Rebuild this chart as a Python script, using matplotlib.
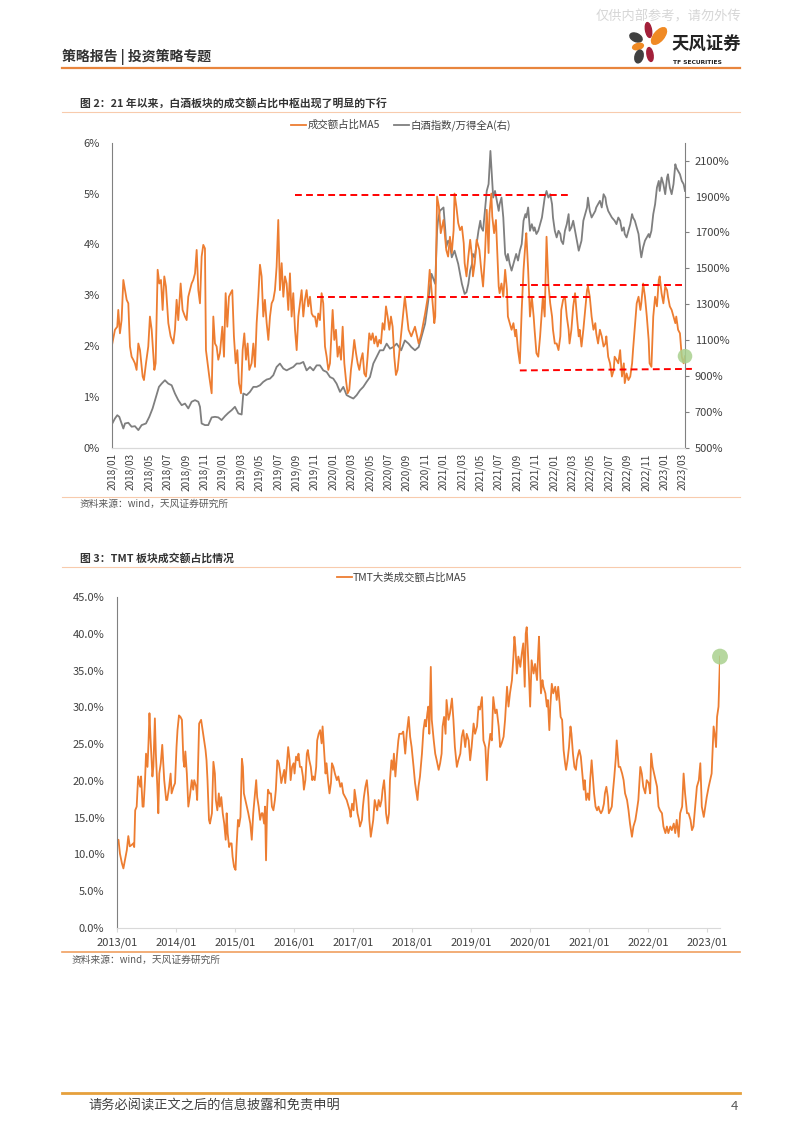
import matplotlib
matplotlib.use("Agg")
import matplotlib.pyplot as plt
from matplotlib.lines import Line2D
from matplotlib.patches import Ellipse

plt.rcParams['font.family'] = ['Noto Sans CJK SC', 'DejaVu Sans']

# ---------------- 图2 数据 (x: 月份序号, 2018/01 = 0) ----------------
ratio_t = [0.00, 0.29, 0.54, 0.65, 0.83, 1.01, 1.20, 1.56, 1.74, 1.92,
           2.10, 2.28, 2.46, 2.64, 2.83, 3.01, 3.30, 3.44, 3.66, 3.91,
           4.09, 4.28, 4.57, 4.71, 4.93, 5.11, 5.29, 5.47, 5.65, 5.83,
           6.09, 6.34, 6.63, 6.81, 6.99, 7.17, 7.43, 7.64, 7.90, 8.08,
           8.26, 8.44, 8.62, 8.80, 8.99, 9.17, 9.35, 9.53, 9.71, 9.89,
           10.07, 10.18, 10.36, 10.54, 10.80, 10.98, 11.16, 11.34, 11.52, 11.70,
           11.96, 12.14, 12.32, 12.50, 12.68, 12.86, 13.04, 13.22, 13.41, 13.59,
           13.77, 13.99, 14.17, 14.35, 14.53, 14.71, 14.89, 15.14, 15.33, 15.51,
           15.69, 15.87, 16.05, 16.23, 16.41, 16.59, 16.78, 16.96, 17.14, 17.32,
           17.50, 17.68, 17.86, 18.04, 18.22, 18.41, 18.59, 18.77, 18.95, 19.13,
           19.31, 19.49, 19.67, 19.86, 20.04, 20.22, 20.40, 20.58, 20.76, 20.94,
           21.12, 21.30, 21.49, 21.67, 21.85, 22.03, 22.21, 22.39, 22.57, 22.75,
           22.93, 23.12, 23.30, 23.48, 23.66, 23.95, 24.13, 24.31, 24.49, 24.67,
           24.86, 25.04, 25.22, 25.40, 25.58, 25.76, 25.94, 26.12, 26.30, 26.49,
           26.67, 26.85, 27.03, 27.21, 27.39, 27.57, 27.75, 27.93, 28.12, 28.30,
           28.48, 28.66, 28.84, 29.02, 29.20, 29.38, 29.57, 29.75, 29.93, 30.11,
           30.29, 30.47, 30.65, 30.83, 31.01,
           31.8, 32.2, 32.5, 32.9, 33.3, 33.6, 34.0, 34.3, 34.5, 34.7,
           35.0, 35.1, 35.3, 35.5, 35.7, 36.0, 36.2, 36.3, 36.5, 36.7,
           36.9, 37.1, 37.2, 37.4, 37.6, 37.8, 38.0, 38.2, 38.3, 38.5,
           38.7, 38.9, 39.1, 39.2, 39.4, 39.6, 39.9, 40.1, 40.3, 40.5,
           40.7, 40.9, 41.0, 41.2, 41.3, 41.5, 41.7, 42.0, 42.1, 42.3,
           42.5, 42.7, 42.9, 43.0, 43.2, 43.4, 43.6, 43.8, 43.9, 44.1,
           44.3, 44.5, 44.7, 44.9, 45.0, 45.2, 45.4, 45.6, 45.8, 45.9,
           46.1, 46.3, 46.5, 46.7, 46.8, 47.0, 47.2, 47.4, 47.6, 47.8,
           47.9, 48.1, 48.3, 48.5, 48.7, 48.8, 49.0, 49.2, 49.4, 49.6,
           49.7, 49.9, 50.1, 50.3, 50.5, 50.7, 50.8, 51.0, 51.2, 51.4,
           51.6, 51.7, 51.9, 52.1, 52.3, 52.5, 52.6, 52.8, 53.0, 53.2,
           53.4, 53.6, 53.7, 53.9, 54.1, 54.3, 54.5, 54.6, 54.8, 55.0,
           55.2, 55.4, 55.6, 55.7, 55.9, 56.1, 56.3, 56.5, 56.6, 56.8,
           57.0, 57.2, 57.4, 57.5, 57.7, 57.9, 58.1, 58.3, 58.4, 58.6,
           58.8, 59.0, 59.2, 59.4, 59.5, 59.7, 59.9, 60.1, 60.3, 60.4,
           60.6, 60.8, 61.0, 61.2, 61.3, 61.5, 61.7, 61.9, 62.1, 62.25]
ratio_v = [2.05, 2.32, 2.38, 2.71, 2.25, 2.51, 3.30, 2.91, 2.84, 1.99,
           1.79, 1.73, 1.66, 1.53, 2.05, 1.92, 1.40, 1.33, 1.66, 1.99,
           2.58, 2.32, 1.53, 1.66, 3.50, 3.23, 3.30, 2.71, 3.37, 3.17,
           2.45, 2.19, 2.05, 2.32, 2.91, 2.51, 3.23, 2.71, 2.58, 2.51,
           2.97, 3.10, 3.23, 3.30, 3.43, 3.89, 3.10, 2.84, 3.76, 3.99,
           3.92, 1.92, 1.66, 1.40, 1.07, 2.58, 2.05, 1.99, 1.73, 1.86,
           2.38, 1.79, 3.04, 2.38, 2.97, 3.04, 3.10, 2.19, 1.66, 1.92,
           1.27, 1.07, 1.92, 2.25, 1.73, 2.05, 1.53, 1.66, 2.05, 1.59,
           2.45, 2.97, 3.60, 3.37, 2.58, 2.91, 2.45, 2.12, 2.58, 2.84,
           2.91, 3.10, 3.56, 4.48, 3.10, 3.63, 2.97, 3.37, 3.23, 2.71,
           3.43, 2.58, 3.04, 2.32, 1.92, 2.58, 2.84, 3.10, 2.58, 2.91,
           3.10, 2.78, 2.97, 2.64, 2.58, 2.58, 2.38, 2.64, 2.51, 3.04,
           2.84, 1.99, 1.79, 1.53, 1.66, 2.71, 2.12, 2.32, 1.79, 1.99,
           1.73, 2.38, 1.66, 1.33, 1.07, 1.14, 1.53, 1.79, 2.12, 1.86,
           1.66, 1.53, 1.73, 1.86, 1.46, 1.40, 1.79, 2.25, 2.12, 2.25,
           2.05, 2.19, 1.99, 2.12, 2.05, 2.45, 2.32, 2.78, 2.58, 2.32,
           2.58, 2.38, 1.79, 1.43, 1.53,
           2.97, 2.32, 2.19, 2.38, 2.05, 2.25, 2.64, 2.97, 3.50, 3.10,
           2.45, 2.58, 4.94, 4.74, 4.22, 4.48, 4.09, 3.89, 3.76, 4.15,
           3.83, 4.28, 5.00, 4.74, 4.42, 4.28, 4.35, 4.02, 3.63, 3.37,
           3.76, 4.09, 3.76, 3.37, 3.63, 4.09, 3.89, 3.50, 3.17, 3.76,
           4.68, 3.83, 4.61, 5.00, 4.55, 4.22, 4.48, 3.17, 3.04, 3.23,
           2.97, 3.50, 3.10, 2.58, 2.45, 2.32, 2.45, 2.19, 2.32, 1.92,
           1.66, 2.71, 3.50, 4.02, 4.22, 3.50, 2.58, 2.97, 2.58, 2.32,
           1.86, 1.79, 2.19, 2.71, 2.97, 2.58, 4.15, 3.23, 2.84, 2.58,
           2.32, 2.05, 2.05, 1.92, 2.19, 2.71, 2.91, 2.97, 2.58, 2.32,
           2.05, 2.32, 2.78, 3.04, 2.58, 2.19, 2.32, 1.99, 2.32, 2.71,
           3.10, 3.17, 2.97, 2.58, 2.32, 2.45, 2.25, 2.05, 2.32, 2.19,
           1.99, 2.05, 2.19, 1.79, 1.66, 1.40, 1.53, 1.79, 1.73, 1.66,
           1.92, 1.40, 1.66, 1.27, 1.46, 1.33, 1.40, 1.66, 1.92, 2.38,
           2.84, 2.97, 2.71, 2.84, 3.23, 2.97, 2.58, 2.12, 1.66, 1.59,
           2.58, 2.97, 2.78, 3.30, 3.37, 3.04, 2.84, 3.17, 3.10, 2.97,
           2.78, 2.71, 2.58, 2.45, 2.58, 2.32, 2.25, 1.79, 1.66, 1.80]

liquor_t = [0.00, 0.29, 0.54, 0.76, 1.01, 1.20, 1.38, 1.74, 2.10, 2.46,
            2.83, 3.19, 3.66, 4.02, 4.38, 4.75, 5.07, 5.36, 5.72, 6.09,
            6.45, 6.81, 7.17, 7.54, 7.90, 8.26, 8.62, 8.99, 9.35, 9.53,
            9.71, 10.07, 10.43, 10.80, 11.16, 11.52, 11.88, 12.25, 12.61, 12.97,
            13.33, 13.70, 14.06, 14.24, 14.60, 14.96, 15.33, 15.69, 16.05, 16.41,
            16.78, 17.14, 17.50, 17.86, 18.22, 18.59, 18.95, 19.31, 19.67, 20.04,
            20.40, 20.76, 21.12, 21.49, 21.85, 22.21, 22.57, 22.93, 23.30, 23.66,
            24.02, 24.38, 24.75, 25.11, 25.47, 25.83, 26.20, 26.56, 26.92, 27.28,
            27.64, 28.01, 28.37, 28.73, 29.09, 29.46, 29.82, 30.18, 30.54, 30.91,
            31.4, 31.8, 32.2, 32.5, 32.9, 33.3, 33.6, 34.0, 34.3, 34.7,
            35.1, 35.3, 35.4, 35.6, 36.0, 36.2, 36.3, 36.5, 36.7, 36.9,
            37.2, 37.4, 37.6, 37.8, 38.0, 38.2, 38.3, 38.5, 38.7, 38.9,
            39.1, 39.2, 39.4, 39.6, 39.8, 40.0, 40.1, 40.3, 40.5, 40.7,
            40.9, 41.1, 41.3, 41.4, 41.6, 41.8, 42.0, 42.1, 42.3, 42.5,
            42.7, 42.9, 43.0, 43.2, 43.4, 43.6, 43.8, 43.9, 44.1, 44.3,
            44.5, 44.7, 44.9, 45.0, 45.2, 45.4, 45.6, 45.8, 45.9, 46.1,
            46.3, 46.5, 46.7, 46.8, 47.0, 47.2, 47.4, 47.6, 47.8, 47.9,
            48.1, 48.3, 48.5, 48.7, 48.8, 49.0, 49.2, 49.4, 49.6, 49.7,
            49.9, 50.1, 50.3, 50.5, 50.7, 50.8, 51.0, 51.2, 51.4, 51.6,
            51.7, 51.9, 52.1, 52.3, 52.5, 52.6, 52.8, 53.0, 53.2, 53.4,
            53.6, 53.7, 53.9, 54.1, 54.3, 54.6, 54.8, 55.0, 55.2, 55.4,
            55.6, 55.7, 55.9, 56.1, 56.3, 56.5, 56.6, 56.8, 57.0, 57.2,
            57.4, 57.5, 57.7, 57.9, 58.1, 58.3, 58.4, 58.6, 58.8, 59.0,
            59.2, 59.4, 59.5, 59.7, 59.9, 60.1, 60.3, 60.4, 60.6, 60.8,
            61.0, 61.2, 61.3, 61.5, 61.7, 61.9, 62.1, 62.25]
liquor_v = [635, 663, 681, 672, 635, 607, 635, 639, 617, 620,
            598, 626, 635, 672, 719, 783, 839, 857, 876, 857,
            848, 802, 765, 737, 746, 719, 756, 765, 756, 728,
            635, 626, 626, 669, 672, 669, 654, 676, 694, 709,
            728, 691, 685, 802, 793, 811, 839, 839, 848, 867,
            880, 885, 904, 950, 969, 941, 931, 941, 950, 969,
            969, 978, 931, 950, 931, 959, 959, 931, 922, 894,
            885, 857, 811, 839, 793, 783, 774, 793, 820, 839,
            867, 894, 969, 1006, 1043, 1043, 1080, 1052, 1061, 1080,
            1043, 1098, 1080, 1061, 1043, 1061, 1117, 1191, 1302, 1469,
            1413, 1709, 1765, 1820, 1839, 1709, 1617, 1654, 1635, 1561,
            1598, 1561, 1524, 1469, 1413, 1376, 1357, 1367, 1413, 1487,
            1524, 1580, 1561, 1635, 1709, 1765, 1728, 1709, 1820, 1931,
            1969, 2154, 1987, 1894, 1931, 1876, 1820, 1857, 1894, 1783,
            1580, 1543, 1580, 1524, 1487, 1524, 1561, 1580, 1543, 1598,
            1635, 1765, 1802, 1783, 1839, 1709, 1746, 1709, 1728, 1691,
            1709, 1746, 1783, 1820, 1894, 1931, 1894, 1913, 1857, 1783,
            1709, 1672, 1709, 1691, 1654, 1635, 1709, 1746, 1802, 1709,
            1728, 1765, 1709, 1654, 1598, 1617, 1654, 1765, 1802, 1839,
            1894, 1820, 1783, 1802, 1820, 1839, 1857, 1876, 1839, 1913,
            1894, 1857, 1820, 1802, 1783, 1765, 1746, 1783, 1765, 1709,
            1728, 1691, 1672, 1709, 1746, 1802, 1783, 1765, 1728, 1691,
            1598, 1561, 1617, 1654, 1672, 1691, 1672, 1709, 1802, 1857,
            1950, 1987, 1931, 2006, 1969, 1913, 2006, 2024, 1950, 1913,
            1969, 2080, 2061, 2043, 2024, 1987, 1969, 1931]

fig2_xlabels = ['2018/01', '2018/03', '2018/05', '2018/07', '2018/09', '2018/11',
                '2019/01', '2019/03', '2019/05', '2019/07', '2019/09', '2019/11',
                '2020/01', '2020/03', '2020/05', '2020/07', '2020/09', '2020/11',
                '2021/01', '2021/03', '2021/05', '2021/07', '2021/09', '2021/11',
                '2022/01', '2022/03', '2022/05', '2022/07', '2022/09', '2022/11',
                '2023/01', '2023/03']

# 红色虚线 (起点月, 终点月, 起点值, 终点值)
guide_lines = [(19.9, 49.5, 4.97, 4.97),
               (22.3, 51.9, 2.97, 2.97),
               (44.3, 62.0, 3.20, 3.20),
               (44.3, 63.0, 1.52, 1.55)]

# ---------------- 图3 数据 (x: 月份序号, 2013/01 = 0) ----------------
tmt_t = [0.0, 0.3, 0.6, 1.0, 1.3, 1.6, 2.0, 2.3, 2.6, 3.0,
         3.3, 3.5, 3.7, 4.0, 4.3, 4.7, 4.9, 5.2, 5.4, 5.7,
         5.9, 6.2, 6.4, 6.6, 6.8, 7.2, 7.4, 7.7, 7.9, 8.2,
         8.4, 8.6, 8.9, 9.2, 9.6, 10.0, 10.2, 10.6, 10.9, 11.1,
         11.5, 11.8, 12.1, 12.3, 12.6, 12.9, 13.2, 13.5, 13.7, 13.9,
         14.2, 14.5, 14.8, 15.2, 15.5, 15.7, 16.1, 16.3, 16.7, 17.1,
         17.4, 17.7, 18.0, 18.2, 18.4, 18.7, 18.9, 19.3, 19.6, 19.9,
         20.1, 20.4, 20.7, 20.9, 21.2, 21.5, 21.8, 22.1, 22.3, 22.5,
         22.8, 23.0, 23.3, 23.5, 23.8, 24.1, 24.3, 24.6, 24.8, 25.1,
         25.4, 25.6, 25.8, 26.1, 26.4, 26.7, 27.1, 27.4, 27.7, 28.0,
         28.3, 28.5, 28.8, 29.1, 29.4, 29.6, 29.9, 30.1, 30.3, 30.5,
         30.7, 31.0, 31.3, 31.5, 31.8, 32.1, 32.3, 32.6, 32.9, 33.2,
         33.4, 33.7, 34.0, 34.2, 34.5, 34.8, 35.1, 35.3, 35.6, 35.9,
         36.1, 36.4, 36.7, 36.9, 37.2, 37.5, 37.8, 38.0, 38.3, 38.6,
         38.8, 39.1, 39.4, 39.7, 39.9, 40.2, 40.5, 40.7, 41.0, 41.3,
         41.6, 41.8, 42.1, 42.4, 42.6, 42.9, 43.2, 43.5, 43.7, 44.0,
         44.3, 44.7, 45.0, 45.4, 45.7, 46.0, 46.4, 46.7, 47.1, 47.3,
         47.5, 47.8, 48.1, 48.3, 48.6, 48.9, 49.2, 49.4, 49.8, 50.0,
         50.2, 50.5, 50.8, 51.1, 51.3, 51.6, 51.9, 52.1, 52.4, 52.7,
         52.9, 53.2, 53.5, 53.8, 54.0, 54.3, 54.5, 54.7, 55.0, 55.3,
         55.5, 55.8, 56.1, 56.3, 56.6, 56.9, 57.2, 57.4,
         57.9, 58.2, 58.6, 58.9, 59.3, 59.6, 59.9, 60.3, 60.6, 60.9,
         61.1, 61.3, 61.6, 62.0, 62.3, 62.6, 62.8, 63.1, 63.3, 63.5,
         63.8, 64.0, 64.4, 64.7, 65.0, 65.4, 65.7, 66.0, 66.2, 66.5,
         66.8, 67.0, 67.4, 67.7, 68.1, 68.4, 68.7, 69.1, 69.4, 69.8,
         70.1, 70.4, 70.8, 71.1, 71.5, 71.8, 72.1, 72.5, 72.8, 73.2,
         73.5, 73.8, 74.2, 74.5, 74.9, 75.2, 75.5, 75.9, 76.2, 76.5,
         76.9, 77.2, 77.6, 77.9, 78.2, 78.6, 78.9, 79.3, 79.6, 79.9,
         80.3, 80.6, 80.8, 81.0, 81.3, 81.6, 82.0, 82.3, 82.6, 82.9,
         83.1, 83.3, 83.5, 83.8, 84.0, 84.3, 84.7, 85.0, 85.4, 85.6,
         85.8, 86.0, 86.2, 86.5, 86.7, 87.1, 87.4, 87.6, 87.9, 88.1,
         88.4, 88.7, 89.1, 89.4, 89.7, 90.0, 90.2, 90.5, 90.8, 91.1,
         91.3, 91.6, 91.9, 92.2, 92.4, 92.7, 93.0, 93.3, 93.5, 93.8,
         94.0, 94.3, 94.6, 94.9, 95.1, 95.4, 95.7, 96.0, 96.2, 96.5,
         96.8, 97.0, 97.3, 97.6, 97.9, 98.1, 98.4, 98.7, 99.0, 99.2,
         99.5, 99.8, 100.0, 100.3, 100.6, 100.8, 101.1, 101.4, 101.6, 102.0,
         102.3, 102.7, 103.0, 103.3, 103.7, 104.0, 104.3, 104.7, 105.0, 105.4,
         105.7, 106.0, 106.4, 106.7, 107.0, 107.4, 107.7, 108.1, 108.4, 108.6,
         108.9, 109.2, 109.5, 109.8, 110.1, 110.4, 110.8, 111.1, 111.5, 111.8,
         112.1, 112.5, 112.8, 113.2, 113.5, 113.8, 114.2, 114.5, 114.9, 115.2,
         115.5, 115.9, 116.2, 116.6, 116.9, 117.2, 117.6, 117.9, 118.3, 118.6,
         118.9, 119.3, 119.6, 119.9, 120.3, 120.6, 120.9, 121.3, 121.6, 121.8,
         122.0, 122.3, 122.6]
tmt_v = [11.5, 12.0, 10.1, 8.8, 8.1, 9.2, 10.6, 12.5, 11.1, 11.3,
         11.5, 11.0, 16.0, 16.5, 20.6, 19.2, 20.6, 16.5, 16.5, 20.1,
         23.7, 21.9, 25.1, 29.2, 26.0, 20.6, 22.0, 28.5, 23.7, 19.2,
         15.6, 21.0, 22.4, 24.9, 20.1, 17.4, 17.4, 19.2, 21.0, 18.3,
         19.2, 19.7, 24.6, 26.9, 28.9, 28.7, 28.3, 22.8, 21.9, 24.0,
         21.0, 16.5, 17.8, 20.1, 18.8, 20.1, 19.2, 17.4, 27.8, 28.3,
         26.9, 25.5, 24.2, 22.8, 20.1, 14.7, 14.2, 15.6, 22.6, 21.0,
         17.4, 16.0, 18.3, 16.5, 17.8, 15.6, 14.2, 12.0, 15.6, 12.9,
         11.0, 11.5, 11.5, 9.7, 8.3, 7.9, 11.0, 14.7, 13.8, 15.1,
         23.0, 21.9, 18.3, 17.4, 16.5, 15.6, 14.2, 12.0, 15.6, 17.8,
         20.1, 17.8, 16.5, 14.7, 15.6, 15.6, 14.2, 16.5, 9.2, 16.0,
         18.8, 18.3, 18.3, 16.5, 16.0, 17.4, 18.8, 22.8, 22.4, 21.0,
         19.7, 20.6, 21.5, 19.7, 21.9, 24.6, 22.8, 20.1, 21.9, 22.4,
         21.0, 23.3, 22.8, 23.7, 21.9, 21.9, 20.6, 18.8, 20.1, 23.7,
         24.2, 22.8, 21.9, 20.1, 20.6, 20.1, 21.9, 25.5, 26.4, 26.9,
         25.1, 27.4, 24.2, 21.0, 22.4, 20.1, 18.3, 19.7, 22.4, 21.9,
         21.0, 20.1, 20.6, 19.2, 19.7, 18.3, 17.8, 17.4, 16.5, 16.0,
         15.1, 16.9, 16.0, 18.8, 17.4, 15.6, 14.7, 13.8, 14.7, 16.5,
         17.8, 19.2, 20.1, 17.8, 14.7, 12.4, 13.8, 14.7, 17.4, 16.5,
         16.0, 17.4, 16.5, 17.4, 18.8, 20.1, 18.3, 15.6, 14.2, 15.6,
         20.1, 22.8, 21.5, 23.7, 20.6, 23.3, 25.5, 26.4,
         26.4, 26.7, 23.7, 26.4, 28.7, 26.0, 24.6, 21.9, 19.7, 18.3,
         17.4, 19.2, 20.6, 23.7, 26.9, 28.3, 27.4, 29.2, 30.1, 26.4,
         35.5, 28.3, 25.5, 23.7, 22.8, 21.5, 22.4, 23.7, 27.4, 28.7,
         26.4, 31.0, 28.3, 29.2, 31.2, 28.3, 24.6, 21.9, 22.8, 23.7,
         26.0, 26.9, 24.6, 26.4, 25.5, 22.8, 24.6, 27.8, 26.4, 27.4,
         30.1, 29.7, 31.4, 25.5, 24.6, 20.1, 24.2, 26.4, 25.5, 31.4,
         29.2, 29.7, 27.4, 24.6, 25.1, 26.0, 28.3, 32.8, 30.1, 31.9,
         33.7, 36.9, 39.6, 38.2, 34.6, 36.9, 35.5, 37.3, 38.7, 32.8,
         40.0, 40.9, 38.2, 33.7, 30.1, 36.4, 34.6, 35.9, 33.7, 36.9,
         39.6, 35.5, 31.9, 33.7, 32.8, 31.9, 30.1, 31.0, 26.9, 30.1,
         33.2, 31.9, 32.8, 31.0, 32.8, 30.5, 28.7, 28.3, 24.2, 22.4,
         21.5, 22.8, 24.6, 27.4, 26.4, 23.7, 21.9, 21.5, 22.8, 23.7,
         24.2, 23.3, 21.0, 18.8, 20.1, 17.4, 18.3, 17.4, 20.1, 22.8,
         20.1, 18.3, 16.5, 16.0, 16.5, 16.0, 15.6, 16.0, 16.9, 18.3,
         19.2, 17.8, 15.6, 16.0, 16.5, 18.3, 20.5, 23.0, 25.5, 21.9,
         21.9, 21.0, 20.1, 18.3, 17.4, 16.0, 14.2, 12.4, 13.8, 14.7,
         16.0, 17.4, 21.9, 21.0, 19.2, 18.3, 20.1, 19.7, 18.3, 23.7,
         21.9, 21.0, 20.1, 19.2, 16.5, 16.0, 15.6, 13.8, 12.9, 13.8,
         12.9, 13.8, 13.3, 14.2, 12.9, 14.7, 12.4, 15.6, 16.5, 21.0,
         18.3, 15.6, 15.6, 14.7, 13.3, 13.8, 16.9, 19.2, 20.1, 22.4,
         16.5, 15.1, 16.5, 17.8, 19.2, 20.1, 21.0, 27.4, 26.0, 24.6,
         28.7, 30.1, 36.9]

fig3_xticks = [0, 12, 24, 36, 48, 60, 72, 84, 96, 108, 120]
fig3_xlabels = ['2013/01', '2014/01', '2015/01', '2016/01', '2017/01', '2018/01',
                '2019/01', '2020/01', '2021/01', '2022/01', '2023/01']

ORANGE = '#ED7D31'
GRAY = '#7F7F7F'
TXT = '#404040'

W, H = 802, 1133
fig = plt.figure(figsize=(W / 100, H / 100), dpi=100)


def fx(x):
    return x / W


def fy(y):
    return 1 - y / H


def hline(y, x0, x1, color, lw):
    fig.add_artist(Line2D([fx(x0), fx(x1)], [fy(y), fy(y)], color=color, lw=lw,
                          transform=fig.transFigure))


# ---------------- 页眉 ----------------
fig.text(fx(596), fy(17), '仅供内部参考，请勿外传', fontsize=9.5, color='#D6D6D6', va='center')
fig.text(fx(62), fy(57), '策略报告 | 投资策略专题', fontsize=10, color='#333333',
         weight='bold', va='center')
hline(68, 62, 740, '#E8853D', 1.6)

# logo 花瓣 (像素坐标, 左上为原点)
petals = [((648.5, 30), 6, 15, 10, '#A3203A'),
          ((659, 36), 10, 20, -40, '#F08A24'),
          ((636, 37.5), 13, 8, -25, '#404040'),
          ((638, 46.5), 11, 6, 15, '#F08A24'),
          ((639, 56.5), 8, 13, -15, '#404040'),
          ((650, 54.5), 6, 14, 10, '#A3203A')]
for (cx, cy), w, h, ang, col in petals:
    fig.add_artist(Ellipse((cx / 100, (H - cy) / 100), w / 100, h / 100, angle=ang,
                           color=col, transform=fig.dpi_scale_trans))
fig.text(fx(671), fy(45), '天风证券', fontsize=12.5, weight='bold', color='#222222', va='center')
fig.text(fx(673), fy(62.5), 'TF SECURITIES', fontsize=4.3, weight='bold', color='#222222',
         va='center', family='DejaVu Sans')

# ---------------- 图2 ----------------
fig.text(fx(80), fy(103), '图 2：21 年以来，白酒板块的成交额占比中枢出现了明显的下行',
         fontsize=7.8, weight='bold', color='#333333', va='center')
hline(112, 62, 740, '#F8CBAD', 0.8)

ax1 = fig.add_axes([fx(112.3), fy(447.7), (685 - 112.3) / W, (447.7 - 142.7) / H])
ax1b = ax1.twinx()
l2, = ax1b.plot(liquor_t, liquor_v, color=GRAY, lw=1.3)
l1, = ax1.plot(ratio_t, ratio_v, color=ORANGE, lw=1.3)
ax1.set_zorder(ax1b.get_zorder() + 1)
ax1.patch.set_visible(False)

ax1.set_xlim(0, 62.25)
ax1.set_ylim(0, 6)
ax1b.set_ylim(500, 2200)
ax1.set_yticks(range(0, 7))
ax1.set_yticklabels([f'{v}%' for v in range(0, 7)])
ax1b.set_yticks(range(500, 2101, 200))
ax1b.set_yticklabels([f'{v}%' for v in range(500, 2101, 200)])
ax1.set_xticks(range(0, 63, 2))
ax1.set_xticklabels(fig2_xlabels, rotation=90)

for a in (ax1, ax1b):
    a.spines['top'].set_visible(False)
    a.spines['bottom'].set_color('#D9D9D9')
    a.spines['left'].set_color('#808080')
    a.spines['right'].set_color('#808080')
ax1.spines['right'].set_visible(False)
ax1b.spines['left'].set_visible(False)
ax1.tick_params(axis='y', length=0, pad=9, labelsize=8, labelcolor=TXT)
ax1.tick_params(axis='x', length=0, pad=4, labelsize=7.2, labelcolor=TXT)
ax1b.tick_params(axis='y', length=3, pad=4, labelsize=8, labelcolor=TXT, color='#808080')

for x0, x1, y0, y1 in guide_lines:
    ax1.plot([x0, x1], [y0, y1], color='#FF0000', lw=1.4, dashes=(3.5, 2.2),
             clip_on=False, zorder=5)
ax1.scatter([ratio_t[-1]], [ratio_v[-1]], s=110, color='#A9D18E', alpha=0.85,
            edgecolors='none', clip_on=False, zorder=6)

fig.legend([l1, l2], ['成交额占比MA5', '白酒指数/万得全A(右)'], loc='center',
           bbox_to_anchor=(fx(401), fy(125)), ncol=2, frameon=False, fontsize=7.5,
           handlelength=1.4, handletextpad=0.15, columnspacing=1.4, labelcolor=TXT)

hline(497, 62, 740, '#F8CBAD', 0.8)
fig.text(fx(80), fy(504), '资料来源：wind，天风证券研究所', fontsize=7, color='#595959', va='center')

# ---------------- 图3 ----------------
fig.text(fx(80), fy(558), '图 3：TMT 板块成交额占比情况', fontsize=7.8, weight='bold',
         color='#333333', va='center')
hline(567, 62, 740, '#F8CBAD', 0.8)

ax2 = fig.add_axes([fx(117), fy(928), (720 - 117) / W, (928 - 597) / H])
l3, = ax2.plot(tmt_t, tmt_v, color=ORANGE, lw=1.3)
ax2.set_xlim(0, 122.6)
ax2.set_ylim(0, 45)
ax2.set_yticks(range(0, 46, 5))
ax2.set_yticklabels([f'{v:.1f}%' for v in range(0, 46, 5)])
ax2.set_xticks(fig3_xticks)
ax2.set_xticklabels(fig3_xlabels)
ax2.spines['top'].set_visible(False)
ax2.spines['right'].set_visible(False)
ax2.spines['left'].set_color('#808080')
ax2.spines['bottom'].set_color('#D9D9D9')
ax2.tick_params(axis='y', length=0, pad=9, labelsize=8, labelcolor=TXT)
ax2.tick_params(axis='x', length=3, pad=4, labelsize=8, labelcolor=TXT, color='#D9D9D9')
ax2.scatter([tmt_t[-1]], [tmt_v[-1]], s=130, color='#A9D18E', alpha=0.85,
            edgecolors='none', clip_on=False, zorder=6)

fig.legend([l3], ['TMT大类成交额占比MA5'], loc='center', bbox_to_anchor=(fx(402), fy(578)),
           frameon=False, fontsize=7.5, handlelength=1.4, handletextpad=0.15, labelcolor=TXT)

hline(952, 62, 740, '#F0A060', 1.2)
fig.text(fx(72), fy(960), '资料来源：wind，天风证券研究所', fontsize=7, color='#595959', va='center')

# ---------------- 页脚 ----------------
hline(1093, 62, 740, '#E6A03C', 2.0)
fig.text(fx(88), fy(1106), '请务必阅读正文之后的信息披露和免责申明', fontsize=9.5,
         color='#404040', va='center')
fig.text(fx(738), fy(1106), '4', fontsize=9.5, color='#595959', va='center', ha='right')

fig.savefig('out.png', dpi=100)
